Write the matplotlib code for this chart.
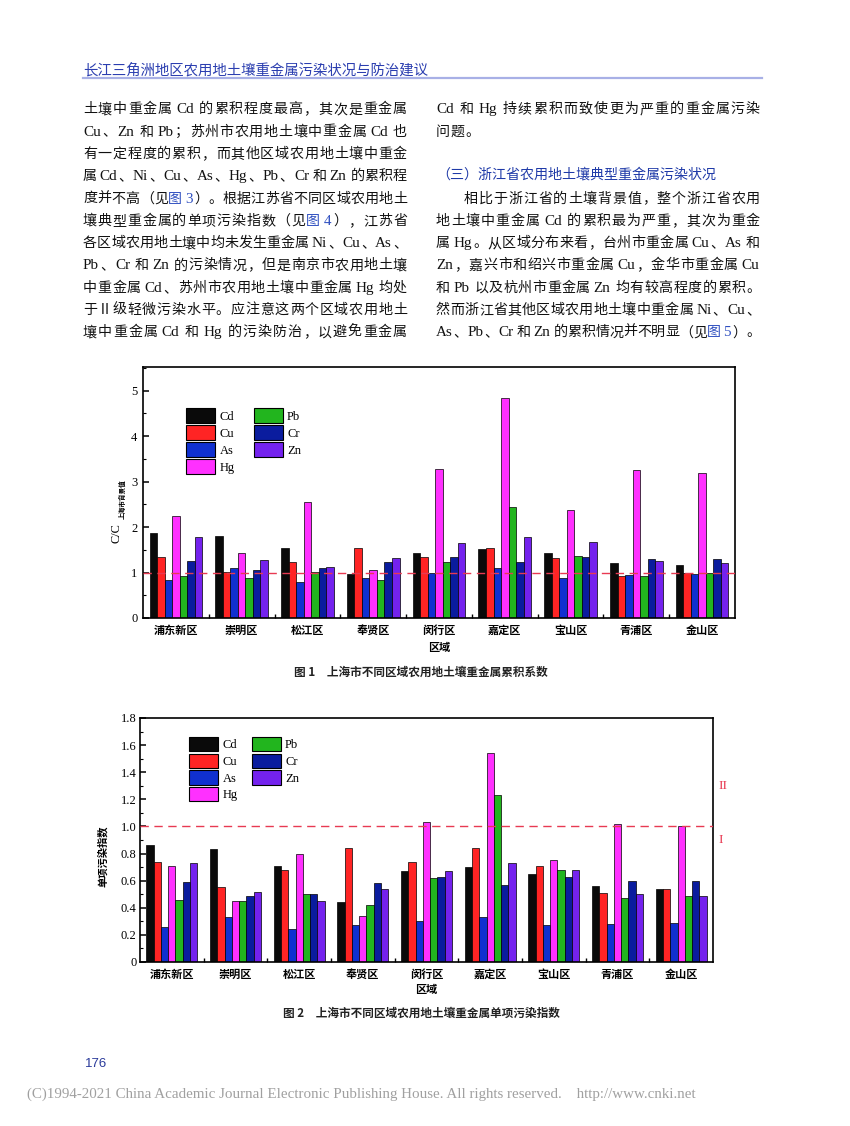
import numpy as np
import matplotlib
matplotlib.use('Agg')
import matplotlib.pyplot as plt
from matplotlib.patches import Patch
from matplotlib.lines import Line2D
from matplotlib.ticker import MultipleLocator, FixedLocator

plt.rcParams['font.family'] = ['Liberation Serif', 'Noto Sans CJK SC']

# ---- data ----
districts = ['浦东新区', '崇明区', '松江区', '奉贤区', '闵行区', '嘉定区', '宝山区', '青浦区', '金山区']
metals = ['Cd', 'Cu', 'As', 'Hg', 'Pb', 'Cr', 'Zn']
metal_colors = ['#0a0a0a', '#ff2424', '#1030d0', '#ff30ff', '#22b51e', '#0a1c9e', '#7422ee']

# fig 1: accumulation coefficient C/C(background)
acc_cd = [1.87, 1.81, 1.53, 0.96, 1.44, 1.51, 1.42, 1.21, 1.16]
acc_cu = [1.35, 1.02, 1.24, 1.54, 1.35, 1.53, 1.31, 0.93, 1.00]
acc_as = [0.84, 1.09, 0.80, 0.89, 1.00, 1.11, 0.89, 0.94, 0.96]
acc_hg = [2.25, 1.43, 2.55, 1.06, 3.27, 4.84, 2.38, 3.25, 3.19]
acc_pb = [0.92, 0.89, 1.02, 0.84, 1.23, 2.45, 1.36, 0.93, 0.98]
acc_cr = [1.26, 1.05, 1.09, 1.24, 1.34, 1.23, 1.35, 1.29, 1.29]
acc_zn = [1.79, 1.28, 1.13, 1.32, 1.64, 1.79, 1.67, 1.25, 1.21]
acc_ticks = [0, 1, 2, 3, 4, 5]

# fig 2: single pollution index
pi_cd = [0.86, 0.83, 0.71, 0.44, 0.67, 0.70, 0.65, 0.56, 0.54]
pi_cu = [0.74, 0.55, 0.68, 0.84, 0.74, 0.84, 0.71, 0.51, 0.54]
pi_as = [0.26, 0.33, 0.24, 0.27, 0.30, 0.33, 0.27, 0.28, 0.29]
pi_hg = [0.71, 0.45, 0.80, 0.34, 1.03, 1.54, 0.75, 1.02, 1.00]
pi_pb = [0.46, 0.45, 0.50, 0.42, 0.62, 1.23, 0.68, 0.47, 0.49]
pi_cr = [0.59, 0.49, 0.50, 0.58, 0.63, 0.57, 0.63, 0.60, 0.60]
pi_zn = [0.73, 0.52, 0.45, 0.54, 0.67, 0.73, 0.68, 0.50, 0.49]
pi_ticks = [0, 0.2, 0.4, 0.6, 0.8, 1.0, 1.2, 1.4, 1.6, 1.8]
pi_tick_labels = ['0', '0.2', '0.4', '0.6', '0.8', '1.0', '1.2', '1.4', '1.6', '1.8']

header = '长江三角洲地区农用地土壤重金属污染状况与防治建议'
left_lines = [
    '土壤中重金属 Cd 的累积程度最高，其次是重金属',
    'Cu、Zn 和 Pb；苏州市农用地土壤中重金属 Cd 也',
    '有一定程度的累积，而其他区域农用地土壤中重金',
    '属 Cd、Ni、Cu、As、Hg、Pb、Cr 和 Zn 的累积程',
    '度并不高（见[图 3]）。根据江苏省不同区域农用地土',
    '壤典型重金属的单项污染指数（见[图 4]），江苏省',
    '各区域农用地土壤中均未发生重金属 Ni、Cu、As、',
    'Pb、Cr 和 Zn 的污染情况，但是南京市农用地土壤',
    '中重金属 Cd、苏州市农用地土壤中重金属 Hg 均处',
    '于Ⅱ级轻微污染水平。应注意这两个区域农用地土',
    '壤中重金属 Cd 和 Hg 的污染防治，以避免重金属',
]
right_top = ['Cd 和 Hg 持续累积而致使更为严重的重金属污染', '问题。']
right_heading = '（三）浙江省农用地土壤典型重金属污染状况'
right_lines = [
    '相比于浙江省的土壤背景值，整个浙江省农用',
    '地土壤中重金属 Cd 的累积最为严重，其次为重金',
    '属 Hg。从区域分布来看，台州市重金属 Cu、As 和',
    'Zn，嘉兴市和绍兴市重金属 Cu，金华市重金属 Cu',
    '和 Pb 以及杭州市重金属 Zn 均有较高程度的累积。',
    '然而浙江省其他区域农用地土壤中重金属 Ni、Cu、',
    'As、Pb、Cr 和 Zn 的累积情况并不明显（见[图 5]）。',
]
cap1 = '图 1　上海市不同区域农用地土壤重金属累积系数'
cap2 = '图 2　上海市不同区域农用地土壤重金属单项污染指数'
footer = '(C)1994-2021 China Academic Journal Electronic Publishing House. All rights reserved.    http://www.cnki.net'

# ---- page ----
W, H = 850, 1126
fig = plt.figure(figsize=(W / 100, H / 100), dpi=100)
renderer = fig.canvas.get_renderer()


def fx(x):
    return x / W


def fy(y):
    return 1 - y / H


BODY_PT = 10.1
LATIN_PT = 10.9
EM = BODY_PT * 100 / 72
INK = '#111111'
LINK = '#2f4fc0'


def split_tokens(s):
    out = []
    buf = ''
    blue = False
    for ch in s:
        if ch in '[] ' or ord(ch) >= 128:
            if buf:
                out.append((buf, blue))
                buf = ''
        if ch == '[':
            blue = True
        elif ch == ']':
            blue = False
        elif ch == ' ':
            out.append((' ', blue))
        elif ord(ch) < 128:
            buf += ch
        else:
            out.append((ch, blue))
    if buf:
        out.append((buf, blue))
    return out


def put_line(x0, x1, yc, s, justify=True):
    base = yc + 0.38 * EM
    items = []
    for t, blue in split_tokens(s):
        if t == ' ':
            items.append((None, 2.5, t))
            continue
        latin = ord(t[0]) < 128
        txt = fig.text(0, fy(base), t, fontsize=LATIN_PT if latin else BODY_PT,
                       color=LINK if blue else INK, va='baseline', ha='left')
        if latin:
            w = txt.get_window_extent(renderer).width + 1.0
        else:
            w = EM
        items.append((txt, w, t))
    free = x1 - x0 - sum(w for _, w, _ in items)
    gap = free / (len(items) - 1) if justify and len(items) > 1 else 0.6
    x = x0
    for txt, w, t in items:
        if txt is not None:
            if t == '（':
                txt.set_ha('right')
                txt.set_x(fx(x + w))
            else:
                txt.set_x(fx(x))
        x += w + gap


# header + rule
fig.text(fx(83), fy(70), header, fontsize=10.4, color='#2b3eb0', family='Noto Sans CJK SC', va='center')
fig.add_artist(Line2D([fx(83), fx(762)], [fy(77.5), fy(77.5)], transform=fig.transFigure,
                      color='#a8b0e6', lw=1.6))

line_y = [108 + 22.3 * i for i in range(11)]
LX0, LX1 = 83, 407
RX0, RX1 = 436, 760
for i, s in enumerate(left_lines):
    put_line(LX0, LX1, line_y[i], s)
put_line(RX0, RX1, line_y[0], right_top[0])
put_line(RX0, RX1, line_y[1], right_top[1], justify=False)
fig.text(fx(RX0), fy(line_y[3]), right_heading, fontsize=10.1, color='#1f3aa8',
         family='Noto Sans CJK SC', va='center')
for i, s in enumerate(right_lines):
    x0 = RX0 + 2 * 14.0 if i == 0 else RX0
    put_line(x0, RX1, line_y[4 + i], s)


# ---- charts ----
def draw_bars(ax, series):
    x = np.arange(len(districts))
    bw = 0.8 / len(metals)
    for k, vals in enumerate(series):
        ax.bar(x + (k - 3) * bw, vals, bw, color=metal_colors[k], edgecolor='black',
               linewidth=0.5, zorder=2)
    ax.axhline(1.0, color='#e83a52', lw=1.0, ls=(0, (6, 4)), zorder=3)
    ax.set_xlim(-0.5, len(districts) - 0.5)
    ax.set_xticks(x)
    ax.set_xticklabels(districts, family='Noto Sans CJK SC', fontsize=8, weight='bold')
    ax.xaxis.set_minor_locator(FixedLocator(x[:-1] + 0.5))
    ax.tick_params(axis='x', which='major', length=0, pad=4.5)
    ax.tick_params(axis='x', which='minor', direction='in', length=3, width=1)
    ax.tick_params(axis='y', which='major', direction='in', length=4, width=1.1, labelsize=9)
    ax.tick_params(axis='y', which='minor', direction='in', length=2.5, width=0.8)
    for sp in ax.spines.values():
        sp.set_linewidth(1.2)


def add_legend(ax, anchor, rect_h, pitch, colspace_px):
    fs = 9
    fs_px = fs * 100 / 72
    hh = (rect_h / fs_px - 0.245) / 0.65
    handles = [Patch(facecolor=c, edgecolor='black', linewidth=0.8, label=m)
               for m, c in zip(metals, metal_colors)]
    ax.legend(handles=handles, ncol=2, loc='upper left', bbox_to_anchor=anchor,
              frameon=False, borderpad=0, borderaxespad=0,
              prop={'family': 'Liberation Serif', 'size': fs},
              handlelength=29 / fs_px, handleheight=hh, handletextpad=4.5 / fs_px,
              labelspacing=(pitch - rect_h) / fs_px, columnspacing=colspace_px / fs_px)


# figure 1
ax1 = fig.add_axes([fx(143), fy(618), (735 - 143) / W, (618 - 367) / H])
draw_bars(ax1, [acc_cd, acc_cu, acc_as, acc_hg, acc_pb, acc_cr, acc_zn])
ax1.set_ylim(0, 5.52)
ax1.set_yticks(acc_ticks)
ax1.yaxis.set_minor_locator(MultipleLocator(0.5))
ax1.tick_params(axis='y', which='major', pad=4)
add_legend(ax1, ((186 - 143) / 592, (618 - 408) / 251), 15, 17, 19)
fig.text(fx(116), fy(533), 'C/C', rotation=90, fontsize=8.8, ha='center', va='center')
fig.text(fx(122.5), fy(499), '上海市背景值', rotation=90, fontsize=4.8, ha='center', va='center',
         family='Noto Sans CJK SC', weight='bold')
fig.text(fx(439), fy(647), '区域', fontsize=8, weight='bold', family='Noto Sans CJK SC',
         ha='center', va='center')
fig.text(fx(421), fy(672), cap1, fontsize=8.4, weight='bold', family='Noto Sans CJK SC',
         ha='center', va='center', color='#222222')

# figure 2
ax2 = fig.add_axes([fx(140), fy(962), (713 - 140) / W, (962 - 718) / H])
draw_bars(ax2, [pi_cd, pi_cu, pi_as, pi_hg, pi_pb, pi_cr, pi_zn])
ax2.set_ylim(0, 1.8)
ax2.set_yticks(pi_ticks)
ax2.set_yticklabels(pi_tick_labels)
ax2.yaxis.set_minor_locator(MultipleLocator(0.1))
ax2.tick_params(axis='y', which='major', pad=2.5)
add_legend(ax2, ((189 - 140) / 573, (962 - 737) / 244), 14.3, 16.7, 14)
ax2.text(1.017, 1.3, 'II', transform=ax2.get_yaxis_transform(), color='#e83a52', fontsize=9.5,
         ha='center', va='center')
ax2.text(1.014, 0.9, 'I', transform=ax2.get_yaxis_transform(), color='#e83a52', fontsize=9.5,
         ha='center', va='center')
fig.text(fx(103), fy(856), '单项污染指数', rotation=90, fontsize=7.4, weight='bold',
         family='Noto Sans CJK SC', ha='center', va='center')
fig.text(fx(426), fy(989), '区域', fontsize=8, weight='bold', family='Noto Sans CJK SC',
         ha='center', va='center')
fig.text(fx(421), fy(1013), cap2, fontsize=8.4, weight='bold', family='Noto Sans CJK SC',
         ha='center', va='center', color='#222222')

# page number + footer
fig.text(fx(85), fy(1064), '176', fontsize=9.5, color='#2a3a9a', family='Liberation Sans',
         va='center')
foot = fig.text(fx(27), fy(1094), footer, fontsize=10, color='#a0a0a0', va='center',
                family='Liberation Serif')
fw = foot.get_window_extent(renderer).width
foot.set_fontsize(10 * (698 - 27) / fw)

fig.savefig('out.png', dpi=100)
